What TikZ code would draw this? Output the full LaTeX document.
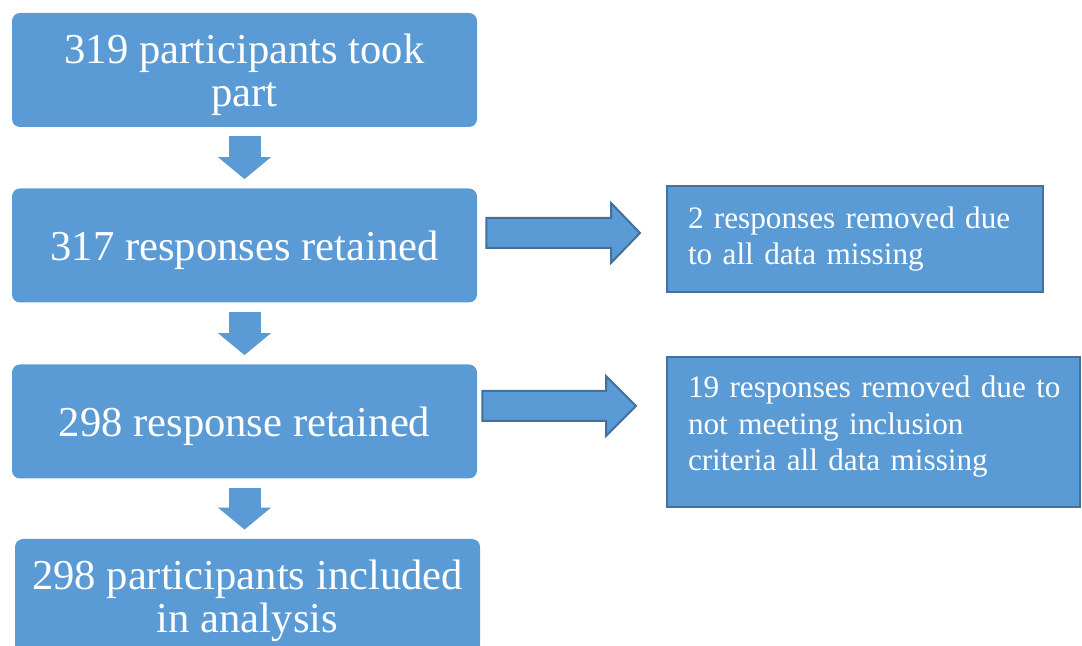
\documentclass[tikz,border=0pt]{standalone}
\usepackage{fontspec}
\setmainfont{Liberation Serif}
\usetikzlibrary{arrows.meta,calc,positioning}
\definecolor{boxblue}{HTML}{5B9BD5}
\definecolor{edgeblue}{HTML}{41719C}
\hyphenpenalty=10000
\tikzset{
	mainbox/.style={rectangle,rounded corners=4pt,fill=boxblue,text=white,align=center,minimum width=232.5pt,minimum height=57pt,text depth=0pt,font=\fontsize{21.3}{21.5}\selectfont},
	sidebox/.style={rectangle,fill=boxblue,draw=edgeblue,line width=1pt,text=white,align=left,inner xsep=10.5pt,font=\fontsize{15.6}{18.3}\selectfont},
	downarrow/.style={draw=boxblue,line width=16pt,-{Triangle[width=26pt,length=11pt]},shorten <=4.5pt,shorten >=4.5pt},
	rarrow/.style={fill=boxblue,draw=edgeblue,line width=1pt,line join=miter}
}
\begin{document}
\begin{tikzpicture}[x=0.5pt,y=-0.5pt]
\useasboundingbox (0,0) rectangle (1082,646);

%%%% main column
\node[mainbox] (took) at (244.5,70) {319 participants took\\part};
\node[mainbox] (kept1) at (244.5,245.5) {317 responses retained};
\node[mainbox] (kept2) at (244.5,421.5) {298 response retained};
\node[mainbox] (incl) at (247.5,596) {298 participants included\\in analysis};

\draw[downarrow] (took.south) -- (kept1.north);
\draw[downarrow] (kept1.south) -- (kept2.north);
\draw[downarrow] (kept2.south) -- (kept2.south |- incl.north);

%%%% removed
\node[sidebox,minimum width=188pt,minimum height=53pt,text width=167pt] (rem1) at (855,239) {2 responses removed due\\to all data missing};
\node[sidebox,minimum width=206.5pt,minimum height=75pt,text width=185.5pt] (rem2) at (873.5,432) {\mbox{19 responses removed due to}\\not meeting inclusion\\criteria all data missing\rule[-8.5pt]{0pt}{8.5pt}};

\coordinate (s1) at ($(kept1.east)+(9,-12.5)$);
\coordinate (t1) at ($(rem1.west)+(-26,-6)$);
\draw[rarrow] ($(s1)+(0,-15)$) -- ($(t1)+(-29,-15)$) -- ($(t1)+(-29,-30)$) -- (t1)
	-- ($(t1)+(-29,30)$) -- ($(t1)+(-29,15)$) -- ($(s1)+(0,15)$) -- cycle;

\coordinate (s2) at ($(kept2.east)+(5,-15.5)$);
\coordinate (t2) at ($(rem2.west)+(-30,-26)$);
\draw[rarrow] ($(s2)+(0,-15)$) -- ($(t2)+(-30,-15)$) -- ($(t2)+(-30,-30)$) -- (t2)
	-- ($(t2)+(-30,30)$) -- ($(t2)+(-30,15)$) -- ($(s2)+(0,15)$) -- cycle;
\end{tikzpicture}
\end{document}
